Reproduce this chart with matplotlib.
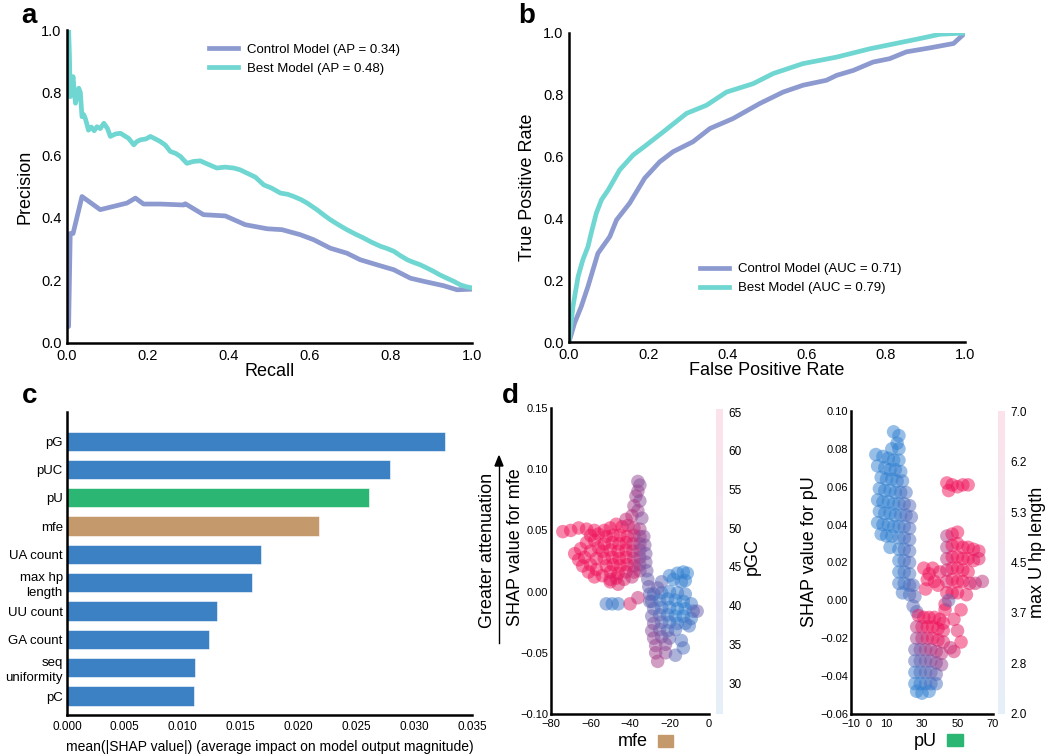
import matplotlib.pyplot as plt
import numpy as np
from matplotlib.colors import LinearSegmentedColormap, Normalize
from matplotlib.cm import ScalarMappable
from matplotlib.patches import Rectangle

plt.rcParams['font.family'] = ['Liberation Sans', 'DejaVu Sans']

# ---- panel a : precision / recall ----
pr_ctrl_recall = [0.0, 0.004, 0.008, 0.015, 0.037, 0.082, 0.148, 0.169, 0.189, 0.23, 0.288, 0.292,
                  0.337, 0.391, 0.44, 0.494, 0.531, 0.576, 0.609, 0.65, 0.691, 0.724, 0.765, 0.807,
                  0.848, 0.881, 0.93, 0.963, 1.0]
pr_ctrl_prec = [0.05, 0.053, 0.35, 0.35, 0.468, 0.426, 0.447, 0.463, 0.444, 0.444, 0.441, 0.445,
                0.41, 0.406, 0.378, 0.365, 0.362, 0.346, 0.33, 0.303, 0.287, 0.266, 0.25, 0.234,
                0.207, 0.197, 0.183, 0.170, 0.172]
pr_best_recall = [0.0, 0.004, 0.006, 0.008, 0.012, 0.015, 0.018, 0.021, 0.025, 0.029, 0.033, 0.037,
                  0.041, 0.045, 0.049, 0.053, 0.06, 0.067, 0.074, 0.082, 0.091, 0.1, 0.107, 0.12,
                  0.132, 0.142, 0.152, 0.165, 0.172, 0.181, 0.195, 0.206, 0.218, 0.23, 0.243, 0.255,
                  0.268, 0.28, 0.296, 0.312, 0.329, 0.35, 0.37, 0.39, 0.412, 0.428, 0.444, 0.465,
                  0.486, 0.505, 0.527, 0.545, 0.56, 0.578, 0.593, 0.617, 0.633, 0.65, 0.67, 0.691,
                  0.712, 0.733, 0.752, 0.774, 0.79, 0.807, 0.822, 0.84, 0.855, 0.872, 0.888, 0.905,
                  0.92, 0.938, 0.955, 0.971, 0.985, 1.0]
pr_best_prec = [1.0, 1.0, 0.92, 0.787, 0.83, 0.851, 0.8, 0.766, 0.79, 0.814, 0.8, 0.723,
                0.73, 0.718, 0.7, 0.68, 0.69, 0.678, 0.691, 0.685, 0.702, 0.685, 0.66, 0.668,
                0.67, 0.662, 0.654, 0.633, 0.643, 0.649, 0.652, 0.66, 0.652, 0.644, 0.632, 0.612,
                0.606, 0.596, 0.574, 0.58, 0.582, 0.57, 0.559, 0.562, 0.559, 0.553, 0.543, 0.53,
                0.505, 0.495, 0.479, 0.475, 0.468, 0.458, 0.447, 0.426, 0.41, 0.394, 0.378, 0.362,
                0.348, 0.335, 0.322, 0.309, 0.302, 0.293, 0.28, 0.266, 0.258, 0.25, 0.24, 0.229,
                0.218, 0.207, 0.197, 0.186, 0.18, 0.176]

# ---- panel b : ROC ----
roc_ctrl_fpr = [0.0, 0.014, 0.031, 0.048, 0.073, 0.103, 0.12, 0.153, 0.191, 0.229, 0.263, 0.313,
                0.356, 0.414, 0.482, 0.541, 0.591, 0.65, 0.676, 0.718, 0.768, 0.81, 0.852, 0.912,
                0.971, 1.0]
roc_ctrl_tpr = [0.0, 0.061, 0.115, 0.18, 0.287, 0.341, 0.395, 0.449, 0.53, 0.583, 0.616, 0.648,
                0.691, 0.723, 0.772, 0.809, 0.831, 0.847, 0.863, 0.879, 0.906, 0.917, 0.939, 0.952,
                0.966, 1.0]
roc_best_fpr = [0.0, 0.01, 0.023, 0.035, 0.048, 0.056, 0.069, 0.082, 0.099, 0.128, 0.162, 0.195,
                0.238, 0.297, 0.347, 0.398, 0.465, 0.516, 0.591, 0.676, 0.76, 0.802, 0.886, 0.937,
                1.0]
roc_best_tpr = [0.0, 0.115, 0.212, 0.266, 0.309, 0.352, 0.417, 0.46, 0.492, 0.557, 0.605, 0.637,
                0.68, 0.74, 0.766, 0.809, 0.836, 0.869, 0.901, 0.922, 0.949, 0.96, 0.982, 0.996,
                1.0]

# ---- panel c : feature importance ----
features = ['pG', 'pUC', 'pU', 'mfe', 'UA count', 'max hp\nlength', 'UU count', 'GA count',
            'seq\nuniformity', 'pC']
importance = [0.0327, 0.0279, 0.0261, 0.0218, 0.0168, 0.0160, 0.0130, 0.0123, 0.0111, 0.0110]

# ---- panel d : dependence plots (mfe, shap, pGC) ----
mfe_points = [
    (-74, 0.049, 58), (-70, 0.050, 60), (-66, 0.052, 60), (-62, 0.051, 61), (-58, 0.050, 60),
    (-60, 0.046, 59), (-56, 0.047, 60), (-68, 0.031, 58), (-65, 0.035, 60), (-62, 0.040, 61),
    (-58, 0.042, 62), (-66, 0.026, 59), (-63, 0.028, 61), (-60, 0.033, 62), (-56, 0.036, 62),
    (-64, 0.021, 60), (-60, 0.022, 61), (-57, 0.027, 62), (-61, 0.016, 60), (-57, 0.018, 61),
    (-54, 0.013, 60), (-58, 0.012, 59), (-50, 0.008, 58), (-46, 0.006, 55),
    (-53, 0.050, 60), (-50, 0.052, 61), (-47, 0.055, 60), (-44, 0.053, 58), (-41, 0.054, 56),
    (-38, 0.052, 52), (-35, 0.051, 48), (-52, 0.045, 61), (-48.5, 0.046, 62), (-45, 0.046, 61),
    (-41.5, 0.045, 58), (-38, 0.046, 54), (-35, 0.045, 49), (-53, 0.039, 62), (-49, 0.040, 62),
    (-45.5, 0.039, 61), (-42, 0.040, 58), (-38.5, 0.039, 54), (-35, 0.039, 48), (-54, 0.033, 62),
    (-50, 0.034, 62), (-46, 0.033, 62), (-42, 0.034, 58), (-38.5, 0.033, 54), (-35, 0.034, 47),
    (-53, 0.027, 62), (-49, 0.028, 62), (-45.5, 0.027, 61), (-42, 0.028, 58), (-38, 0.027, 53),
    (-35, 0.028, 47), (-52, 0.021, 62), (-48.5, 0.022, 62), (-45, 0.021, 61), (-41.5, 0.022, 58),
    (-38, 0.021, 53), (-35, 0.022, 48), (-50, 0.016, 61), (-46, 0.015, 60), (-42, 0.016, 57),
    (-38, 0.016, 53), (-35, 0.017, 48), (-47, 0.011, 58), (-43, 0.010, 55), (-39, 0.012, 52),
    (-36, 0.090, 45), (-35, 0.087, 44), (-36, 0.082, 46), (-37, 0.078, 47), (-35, 0.074, 44),
    (-38, 0.070, 48), (-36, 0.066, 46), (-39, 0.062, 50), (-34, 0.060, 44), (-42, 0.059, 52),
    (-33, 0.045, 44), (-32.5, 0.038, 43), (-32, 0.031, 42), (-32, 0.024, 42), (-31.5, 0.017, 41),
    (-31, 0.010, 40), (-30.5, 0.004, 40), (-30, -0.002, 39), (-30, -0.008, 40),
    (-28, -0.002, 36), (-24, -0.001, 34), (-20, 0.000, 33), (-16, -0.001, 33), (-12, -0.002, 34),
    (-29, -0.008, 38), (-25, -0.007, 35), (-21, -0.006, 33), (-17, -0.007, 32), (-13, -0.008, 32),
    (-9, -0.010, 34), (-28, -0.014, 38), (-24, -0.013, 35), (-20, -0.013, 33), (-16, -0.014, 32),
    (-12, -0.014, 32), (-8, -0.016, 35), (-29, -0.020, 40), (-25, -0.019, 37), (-21, -0.019, 34),
    (-17, -0.020, 32), (-13, -0.020, 32), (-9, -0.022, 34), (-28, -0.026, 42), (-24, -0.025, 38),
    (-20, -0.025, 35), (-16, -0.026, 33), (-12, -0.026, 34), (-29, -0.032, 44), (-25, -0.031, 40),
    (-21, -0.032, 37), (-17, -0.031, 36), (-28, -0.038, 45), (-24, -0.037, 42), (-20, -0.038, 39),
    (-27, -0.044, 46), (-22, -0.043, 44), (-27, -0.050, 47), (-22, -0.050, 45), (-26, -0.057, 48),
    (-17, -0.052, 38), (-13, -0.046, 36),
    (-24, 0.008, 38), (-20, 0.013, 33), (-16, 0.015, 31), (-13, 0.016, 31), (-11, 0.015, 30),
    (-18, 0.010, 32), (-14, 0.008, 33), (-12, 0.009, 32), (-26, 0.003, 40),
    (-52, -0.010, 35), (-49, -0.010, 33), (-46, -0.010, 34), (-6, -0.016, 40), (-10, -0.028, 35),
    (-14, -0.040, 36), (-40, -0.010, 55), (-36, -0.005, 52), (-50, 0.010, 56),
]

# (pU, shap, max U hp length)
pu_points = [
    (14, 0.089, 2.3), (17, 0.087, 2.3), (16, 0.083, 2.4), (13, 0.080, 2.3), (17, 0.080, 2.5),
    (4, 0.077, 2.3), (8, 0.076, 2.4), (11, 0.075, 2.4), (14, 0.074, 2.5), (17, 0.074, 2.6),
    (5, 0.071, 2.4), (9, 0.070, 2.4), (12, 0.069, 2.5), (15, 0.069, 2.6), (18, 0.068, 2.7),
    (7, 0.065, 2.4), (10, 0.064, 2.5), (13, 0.064, 2.5), (16, 0.063, 2.6), (19, 0.063, 2.8),
    (6, 0.059, 2.4), (9, 0.058, 2.5), (12, 0.058, 2.5), (15, 0.057, 2.6), (18, 0.057, 2.8),
    (21, 0.057, 3.0), (5, 0.053, 2.4), (8, 0.052, 2.5), (11, 0.052, 2.5), (14, 0.051, 2.6),
    (17, 0.051, 2.7), (20, 0.051, 3.0), (23, 0.050, 3.2), (6, 0.047, 2.4), (9, 0.046, 2.5),
    (12, 0.046, 2.5), (15, 0.045, 2.6), (18, 0.045, 2.8), (21, 0.045, 3.0), (24, 0.044, 3.2),
    (5, 0.041, 2.4), (8, 0.040, 2.4), (11, 0.040, 2.5), (14, 0.039, 2.6), (17, 0.039, 2.7),
    (20, 0.039, 2.9), (23, 0.038, 3.1), (7, 0.035, 2.4), (10, 0.034, 2.5), (13, 0.034, 2.6),
    (17, 0.033, 2.7), (20, 0.033, 2.9), (23, 0.032, 3.1), (12, 0.028, 2.5), (17, 0.027, 2.7),
    (20, 0.027, 2.9), (23, 0.026, 3.1), (17, 0.021, 2.7), (20, 0.021, 2.9), (23, 0.020, 3.1),
    (17, 0.015, 2.7), (20, 0.015, 2.9), (23, 0.014, 3.0), (17, 0.009, 2.8), (20, 0.009, 2.9),
    (23, 0.008, 3.0), (25, 0.008, 3.2), (19, 0.004, 2.9), (23, 0.003, 3.0), (26, 0.002, 3.3),
    (25, -0.003, 3.2), (27, -0.006, 3.3),
    (28, -0.008, 5.5), (31, -0.009, 5.8), (34, -0.009, 6.0), (37, -0.009, 6.0), (40, -0.010, 5.9),
    (42, -0.012, 5.6), (27, -0.014, 4.8), (30, -0.014, 5.3), (33, -0.014, 5.6), (36, -0.014, 5.8),
    (39, -0.015, 5.8), (42, -0.016, 5.5), (27, -0.020, 4.3), (30, -0.020, 4.8), (33, -0.020, 5.2),
    (36, -0.020, 5.4), (39, -0.021, 5.5), (42, -0.022, 5.3),
    (26, -0.026, 3.5), (29, -0.026, 3.8), (32, -0.026, 4.2), (35, -0.026, 4.5), (38, -0.027, 4.6),
    (41, -0.028, 4.8), (26, -0.032, 3.2), (29, -0.032, 3.4), (32, -0.032, 3.6), (35, -0.032, 3.8),
    (38, -0.033, 4.0), (41, -0.034, 4.2), (26, -0.038, 2.8), (29, -0.038, 3.0), (32, -0.038, 3.2),
    (35, -0.038, 3.3), (38, -0.039, 3.5), (26, -0.044, 2.6), (29, -0.044, 2.7), (32, -0.044, 2.8),
    (35, -0.044, 3.0), (38, -0.044, 3.0), (27, -0.048, 2.5), (30, -0.049, 2.5), (34, -0.048, 2.6),
    (44, 0.034, 4.5), (44, 0.028, 4.5), (44, 0.022, 4.8), (44, 0.016, 5.0), (44, 0.010, 5.2),
    (44, 0.004, 5.5), (43, -0.002, 5.5), (43, -0.005, 5.6),
    (47, 0.035, 5.5), (50, 0.036, 5.8), (47, 0.029, 5.6), (50, 0.030, 6.0), (53, 0.028, 6.2),
    (56, 0.028, 6.0), (59, 0.027, 5.8), (62, 0.026, 5.5), (47, 0.023, 5.6), (50, 0.023, 6.0),
    (53, 0.022, 6.2), (56, 0.022, 6.0), (59, 0.021, 5.8), (62, 0.022, 5.4), (47, 0.017, 5.8),
    (50, 0.017, 6.1), (53, 0.016, 6.0), (56, 0.015, 5.7), (47, 0.011, 5.8), (50, 0.010, 6.0),
    (53, 0.010, 5.8), (57, 0.009, 5.4), (60, 0.009, 5.0), (64, 0.010, 4.8), (47, 0.004, 5.6),
    (50, 0.004, 5.8), (55, 0.003, 5.5),
    (44, 0.062, 6.0), (47, 0.061, 6.5), (50, 0.060, 6.8), (53, 0.061, 6.8), (56, 0.061, 6.6),
    (45, 0.058, 6.0),
    (31, 0.017, 6.0), (34, 0.014, 6.2), (37, 0.010, 6.0), (39, 0.008, 5.8), (33, 0.011, 5.8),
    (36, 0.017, 5.9), (40, 0.015, 5.5), (32, 0.006, 5.7),
    (48, -0.010, 5.5), (50, -0.016, 5.4), (52, -0.022, 5.6), (48, -0.027, 5.2), (52, -0.005, 5.6),
    (46, -0.025, 5.0), (45, 0.000, 3.5),
]

c_ctrl = '#8d9acf'
c_best = '#6fd6d2'
bar_colors = ['#3b81c4', '#3b81c4', '#2bb673', '#c4996b'] + ['#3b81c4'] * 6
shap_cmap = LinearSegmentedColormap.from_list('shap_rb', ['#2f7fd0', '#f0125a'])

W, H = 1050, 754
fig = plt.figure(figsize=(W / 100, H / 100), dpi=100)


def box(l, t, r, b):
    # pixel box -> figure fraction
    return [l / W, 1 - b / H, (r - l) / W, (b - t) / H]


def style(ax, size, pad=4):
    for s in ['top', 'right']:
        ax.spines[s].set_visible(False)
    for s in ['left', 'bottom']:
        ax.spines[s].set_linewidth(1.8)
        ax.spines[s].set_color('black')
    ax.tick_params(length=0, labelsize=size, pad=pad)


# a
ax = fig.add_axes(box(67, 30, 472, 343))
ax.plot(pr_ctrl_recall, pr_ctrl_prec, color=c_ctrl, lw=3.4, label='Control Model (AP = 0.34)')
ax.plot(pr_best_recall, pr_best_prec, color=c_best, lw=3.4, label='Best Model (AP = 0.48)')
ax.set_xlim(0, 1)
ax.set_ylim(0, 1)
ax.set_xticks([0, 0.2, 0.4, 0.6, 0.8, 1.0])
ax.set_yticks([0, 0.2, 0.4, 0.6, 0.8, 1.0])
ax.xaxis.set_major_formatter('{x:.1f}')
ax.yaxis.set_major_formatter('{x:.1f}')
style(ax, 10.5)
ax.set_xlabel('Recall', fontsize=13, labelpad=0)
ax.set_ylabel('Precision', fontsize=13, labelpad=5)
ax.legend(loc='upper left', bbox_to_anchor=(0.35, 0.957), frameon=False, fontsize=9.5,
          borderaxespad=0, borderpad=0, handlelength=2.2, handletextpad=0.7, labelspacing=0.5)

# b
ax = fig.add_axes(box(569, 33, 965, 342))
ax.plot(roc_ctrl_fpr, roc_ctrl_tpr, color=c_ctrl, lw=3.4, label='Control Model (AUC = 0.71)')
ax.plot(roc_best_fpr, roc_best_tpr, color=c_best, lw=3.4, label='Best Model (AUC = 0.79)')
ax.set_xlim(0, 1)
ax.set_ylim(0, 1)
ax.set_xticks([0, 0.2, 0.4, 0.6, 0.8, 1.0])
ax.set_yticks([0, 0.2, 0.4, 0.6, 0.8, 1.0])
ax.xaxis.set_major_formatter('{x:.1f}')
ax.yaxis.set_major_formatter('{x:.1f}')
style(ax, 10.5)
ax.set_xlabel('False Positive Rate', fontsize=13, labelpad=0)
ax.set_ylabel('True Positive Rate', fontsize=13, labelpad=5)
ax.legend(loc='upper left', bbox_to_anchor=(0.33, 0.255), frameon=False, fontsize=9.5,
          borderaxespad=0, borderpad=0, handlelength=2.2, handletextpad=0.7, labelspacing=0.5)

# c
ax = fig.add_axes(box(67, 412, 472, 715))
ypos = np.arange(len(features))
ax.barh(ypos, importance, height=0.68, color=bar_colors, edgecolor='white', linewidth=0.4)
ax.set_yticks(ypos)
ax.set_yticklabels(features, fontsize=9.5, ha='right')
for lbl in ax.get_yticklabels():
    lbl.set_linespacing(1.3)
ax.set_ylim(len(features) - 1 + 0.67, -1.03)
ax.set_xlim(0, 0.035)
ax.set_xticks([0, 0.005, 0.01, 0.015, 0.02, 0.025, 0.03, 0.035])
ax.xaxis.set_major_formatter('{x:.3f}')
style(ax, 8.5)
ax.tick_params(axis='y', labelsize=9.5, pad=3)
ax.set_xlabel('mean(|SHAP value|) (average impact on model output magnitude)', fontsize=10,
              labelpad=5)

# d (mfe)
mfe_arr = np.array(mfe_points)
ax = fig.add_axes(box(551, 408, 709, 714))
ax.scatter(mfe_arr[:, 0], mfe_arr[:, 1], c=mfe_arr[:, 2], cmap=shap_cmap, vmin=32, vmax=58,
           s=95, alpha=0.5, linewidths=0)
ax.set_xlim(-80, 0)
ax.set_ylim(-0.10, 0.15)
ax.set_xticks([-80, -60, -40, -20, 0])
ax.set_yticks([-0.10, -0.05, 0.0, 0.05, 0.10, 0.15])
ax.yaxis.set_major_formatter('{x:.2f}')
style(ax, 8)
ax.tick_params(axis='y', pad=2)
ax.tick_params(axis='x', pad=3.5)
cax = fig.add_axes(box(716, 409, 723, 714))
cb = fig.colorbar(ScalarMappable(Normalize(26, 65.4), shap_cmap), cax=cax, alpha=0.12)
cb.outline.set_visible(False)
cb.set_ticks([30, 35, 40, 45, 50, 55, 60, 65])
cb.ax.tick_params(length=0, labelsize=8.5, pad=4)

# d (pU)
pu_arr = np.array(pu_points)
ax = fig.add_axes(box(851, 411, 993, 714))
ax.scatter(pu_arr[:, 0], pu_arr[:, 1], c=pu_arr[:, 2], cmap=shap_cmap, vmin=2.6, vmax=5.6,
           s=95, alpha=0.5, linewidths=0)
ax.set_xlim(-10, 70)
ax.set_ylim(-0.06, 0.10)
ax.set_xticks([-10, 0, 10, 30, 50, 70])
ax.set_yticks([-0.06, -0.04, -0.02, 0.0, 0.02, 0.04, 0.06, 0.08, 0.10])
ax.yaxis.set_major_formatter('{x:.2f}')
style(ax, 8)
ax.tick_params(axis='y', pad=2)
ax.tick_params(axis='x', pad=3.5)
cax = fig.add_axes(box(998, 411, 1005, 714))
cb = fig.colorbar(ScalarMappable(Normalize(2, 7), shap_cmap), cax=cax, alpha=0.12)
cb.outline.set_visible(False)
hp_ticks = [2.0, 2.8333, 3.6667, 4.5, 5.3333, 6.1667, 7.0]
cb.set_ticks(hp_ticks)
cb.set_ticklabels(['%.1f' % t for t in hp_ticks])
cb.ax.tick_params(length=0, labelsize=8.5, pad=4)

# labels for panel d placed in pixels
fig.text(515 / W, 1 - 547 / H, 'SHAP value for mfe', rotation=90, ha='center', va='center', fontsize=13)
fig.text(487 / W, 1 - 550 / H, 'Greater attenuation', rotation=90, ha='center', va='center', fontsize=13)
fig.add_artist(plt.Line2D([499 / W, 499 / W], [1 - 643 / H, 1 - 462 / H], color='black', lw=1))
fig.add_artist(plt.Polygon([[495 / W, 1 - 466 / H], [503 / W, 1 - 466 / H], [499 / W, 1 - 456 / H]],
                           closed=True, color='black'))
fig.text(752 / W, 1 - 557 / H, 'pGC', rotation=90, ha='center', va='center', fontsize=13)
fig.text(810 / W, 1 - 552 / H, 'SHAP value for pU', rotation=90, ha='center', va='center', fontsize=13)
fig.text(1038 / W, 1 - 552 / H, 'max U hp length', rotation=90, ha='center', va='center', fontsize=13)
fig.text(633 / W, 1 - 741 / H, 'mfe', ha='center', va='center', fontsize=13)
fig.add_artist(Rectangle((658 / W, 1 - 747 / H), 15 / W, 12 / H, color='#c4996b'))
fig.text(925 / W, 1 - 741 / H, 'pU', ha='center', va='center', fontsize=13)
fig.add_artist(Rectangle((947 / W, 1 - 746 / H), 16 / W, 12 / H, color='#2bb673'))

# panel letters
for letter, x, y in [('a', 29, 23), ('b', 527, 23), ('c', 30, 403), ('d', 510, 403)]:
    fig.text(x / W, 1 - y / H, letter, ha='center', va='baseline', fontsize=20, fontweight='bold')

fig.savefig('out.png', dpi=100)
